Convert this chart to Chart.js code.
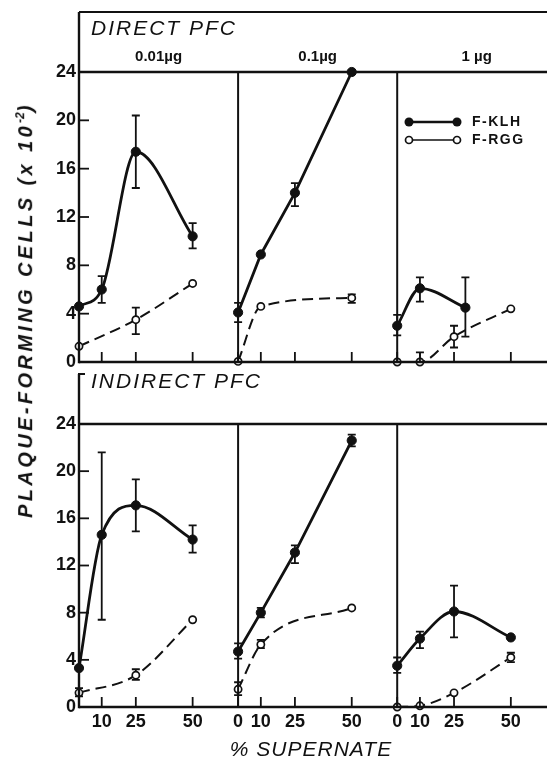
<!DOCTYPE html>
<html>
<head>
<meta charset="utf-8">
<script src="https://cdn.jsdelivr.net/npm/chart.js@4/dist/chart.umd.min.js"></script>
<style>
  html, body { margin: 0; padding: 0; background: #fff; width: 547px; height: 757px; overflow: hidden; }
  canvas { position: absolute; left: 0; }
  #direct { top: 0; }
  #indirect { top: 370px; }
  #ytitle {
    position: absolute; left: 25px; top: 310px;
    transform: translate(-50%, -50%) rotate(-90deg);
    white-space: nowrap; color: #111;
    font: italic bold 20px "Liberation Sans", Arial, sans-serif;
    letter-spacing: 3.4px;
  }
  #ytitle sup { font-size: 12px; letter-spacing: 0; }
</style>
</head>
<body>
<canvas id="direct" width="562" height="385"></canvas>
<canvas id="indirect" width="562" height="387"></canvas>
<div id="ytitle">PLAQUE-FORMING CELLS (x 10<sup>-2</sup>)</div>

<script>
const ink = '#111';
const panelSpan = 70;                 // x units given to each dose panel
const doses = ['0.01µg', '0.1µg', '1 µg'];
const xTickValues = [0, 10, 25, 50];  // % supernate
const yTicks = [0, 4, 8, 12, 16, 20, 24];

// direct PFC, one row per dose
const directKLHx  = [[0, 10, 25, 50], [0, 10, 25, 50], [0, 10, 30]];
const directKLH   = [[4.6, 6.0, 17.4, 10.4], [4.1, 8.9, 14.0, 24.0], [3.0, 6.1, 4.5]];
const directKLHLo = [[null, 4.9, 14.4, 9.4], [3.3, null, 12.9, null], [2.2, 5.0, 2.1]];
const directKLHHi = [[null, 7.1, 20.4, 11.5], [4.9, null, 14.8, null], [3.9, 7.0, 7.0]];
const directRGGx  = [[0, 25, 50], [0, 10, 50], [0, 10, 25, 50]];
const directRGG   = [[1.3, 3.5, 6.5], [0.05, 4.6, 5.3], [0, 0, 2.1, 4.4]];
const directRGGLo = [[null, 2.3, null], [null, null, 4.9], [null, 0, 1.2, null]];
const directRGGHi = [[null, 4.5, null], [null, null, 5.6], [null, 0.8, 3.0, null]];

// indirect PFC
const indirectKLHx  = [[0, 10, 25, 50], [0, 10, 25, 50], [0, 10, 25, 50]];
const indirectKLH   = [[3.3, 14.6, 17.1, 14.2], [4.7, 8.0, 13.1, 22.6], [3.5, 5.8, 8.1, 5.9]];
const indirectKLHLo = [[null, 7.4, 14.9, 13.1], [4.1, 7.6, 12.2, 22.1], [2.9, 5.0, 5.9, null]];
const indirectKLHHi = [[null, 21.6, 19.3, 15.4], [5.4, 8.4, 13.7, 23.1], [4.2, 6.4, 10.3, null]];
const indirectRGGx  = [[0, 25, 50], [0, 10, 50], [0, 10, 25, 50]];
const indirectRGG   = [[1.2, 2.7, 7.4], [1.5, 5.3, 8.4], [0, 0.1, 1.2, 4.2]];
const indirectRGGLo = [[0.9, 2.3, null], [1.0, 5.0, null], [null, null, null, 3.8]];
const indirectRGGHi = [[1.6, 3.2, null], [2.1, 5.7, null], [null, null, null, 4.6]];

const tickFont = { family: '"Liberation Sans", Arial, sans-serif', size: 18, weight: 'bold' };
const straightKLH = [false, true, false]; // the 0.1µg curves are drawn as straight segments

function series(xs, ys, lo, hi, p, open) {
  return {
    data: xs.map((v, i) => ({ x: p * panelSpan + v, y: ys[i] })),
    lo, hi,
    borderColor: ink,
    borderWidth: open ? 2 : 2.8,
    borderDash: open ? [11, 6] : [],
    pointRadius: open ? 3.6 : 4.6,
    pointBackgroundColor: open ? '#fff' : ink,
    pointBorderColor: ink,
    pointBorderWidth: open ? 1.7 : 1,
    cubicInterpolationMode: (!open && straightKLH[p]) ? 'default' : 'monotone',
    tension: 0,
    clip: false
  };
}

function buildSets(kx, k, klo, khi, rx, r, rlo, rhi) {
  const sets = [];
  doses.forEach((d, p) => {
    sets.push(series(rx[p], r[p], rlo[p], rhi[p], p, true));
    sets.push(series(kx[p], k[p], klo[p], khi[p], p, false));
  });
  return sets;
}

// vertical error bars with caps, drawn under the markers
const errorBars = {
  id: 'errorBars',
  beforeDatasetsDraw(chart) {
    const { ctx, scales: { x, y } } = chart;
    ctx.save();
    ctx.strokeStyle = ink;
    ctx.lineWidth = 1.8;
    chart.data.datasets.forEach(ds => {
      ds.data.forEach((pt, i) => {
        if (ds.lo[i] == null) return;
        const px = x.getPixelForValue(pt.x);
        const y1 = y.getPixelForValue(ds.lo[i]);
        const y2 = y.getPixelForValue(ds.hi[i]);
        ctx.beginPath();
        ctx.moveTo(px, y1); ctx.lineTo(px, y2);
        ctx.moveTo(px - 4, y1); ctx.lineTo(px + 4, y1);
        ctx.moveTo(px - 4, y2); ctx.lineTo(px + 4, y2);
        ctx.stroke();
      });
    });
    ctx.restore();
  }
};

// axes box, panel dividers, inward ticks, headings and key
const frame = {
  id: 'frame',
  afterDraw(chart, args, opts) {
    const { ctx, chartArea: a, scales: { x, y } } = chart;
    const w = chart.width;
    const line = (x1, y1, x2, y2, lw) => {
      ctx.lineWidth = lw;
      ctx.beginPath(); ctx.moveTo(x1, y1); ctx.lineTo(x2, y2); ctx.stroke();
    };
    ctx.save();
    ctx.strokeStyle = ink;
    ctx.fillStyle = ink;
    const headTop = a.top - opts.head;
    line(a.left, headTop, a.left, a.bottom + 1.2, 2.4);
    if (opts.closed) line(a.left, headTop, w, headTop, 2.2);
    else line(a.left - 1, headTop, a.left + 6, headTop, 2);
    line(a.left, a.top, w, a.top, 2.6);
    line(a.left, a.bottom, w, a.bottom, 2.4);
    for (let p = 1; p < doses.length; p++) {
      const px = x.getPixelForValue(p * panelSpan);
      line(px, a.top, px, a.bottom, 2);
    }
    y.ticks.forEach((t, i) => {
      const py = y.getPixelForTick(i);
      line(a.left, py, a.left + 10, py, 1.8);
    });
    x.ticks.forEach((t, i) => {
      const px = x.getPixelForTick(i);
      line(px, a.bottom, px, a.bottom - 10, 1.8);
    });

    ctx.textBaseline = 'middle';
    ctx.textAlign = 'left';
    ctx.font = 'italic 21px "Liberation Sans", Arial, sans-serif';
    ctx.letterSpacing = '2px';
    ctx.fillText(opts.title, a.left + 12, a.top - opts.titleGap);
    ctx.letterSpacing = '0px';

    if (opts.xTitle) {
      ctx.font = 'italic 21px "Liberation Sans", Arial, sans-serif';
      ctx.textAlign = 'center';
      ctx.letterSpacing = '1px';
      ctx.fillText(opts.xTitle, 311, a.bottom + 43);
      ctx.letterSpacing = '0px';
    }

    if (opts.doses) {
      ctx.font = 'bold 15px "Liberation Sans", Arial, sans-serif';
      ctx.textAlign = 'center';
      doses.forEach((d, p) => {
        ctx.fillText(d, x.getPixelForValue(p * panelSpan + panelSpan / 2), a.top - 15);
      });
    }

    if (opts.legend) {
      const lx = a.left + 330, ly = a.top + 50;
      line(lx, ly, lx + 48, ly, 2.6);
      line(lx, ly + 18, lx + 48, ly + 18, 1.5);
      [lx, lx + 48].forEach(cx => {
        ctx.beginPath(); ctx.arc(cx, ly, 4.5, 0, Math.PI * 2); ctx.fill();
        ctx.beginPath(); ctx.arc(cx, ly + 18, 3.5, 0, Math.PI * 2);
        ctx.fillStyle = '#fff'; ctx.fill(); ctx.fillStyle = ink;
        ctx.lineWidth = 1.7; ctx.stroke();
      });
      ctx.font = 'bold 14px "Liberation Sans", Arial, sans-serif';
      ctx.textAlign = 'left';
      ctx.letterSpacing = '1.5px';
      ctx.fillText('F-KLH', lx + 63, ly);
      ctx.fillText('F-RGG', lx + 63, ly + 18);
      ctx.letterSpacing = '0px';
    }
    ctx.restore();
  }
};

function makeScales(showLabels, xHeight) {
  return {
    x: {
      type: 'linear', min: 0, max: panelSpan * doses.length,
      grid: { display: false, drawTicks: false }, border: { display: false },
      afterBuildTicks: s => {
        const ticks = [];
        doses.forEach((d, p) => xTickValues.forEach(v => {
          if (p > 0 || v > 0) ticks.push({ value: p * panelSpan + v });
        }));
        s.ticks = ticks;
      },
      afterFit: s => { s.height = xHeight; },
      ticks: {
        display: showLabels, autoSkip: false, maxRotation: 0, minRotation: 0,
        padding: 4, color: ink, font: tickFont,
        callback: v => v % panelSpan
      }
    },
    y: {
      min: 0, max: 24,
      grid: { display: false, drawTicks: false }, border: { display: false },
      afterBuildTicks: s => { s.ticks = yTicks.map(v => ({ value: v })); },
      afterFit: s => { s.width = 79; },
      ticks: { padding: 3, color: ink, font: tickFont }
    }
  };
}

function makeChart(id, sets, padTop, xHeight, showLabels, frameOpts) {
  return new Chart(document.getElementById(id), {
    type: 'line',
    data: { datasets: sets },
    options: {
      responsive: false, animation: false, devicePixelRatio: 1,
      layout: { padding: { top: padTop, right: 3, left: 0, bottom: 0 } },
      scales: makeScales(showLabels, xHeight),
      plugins: { legend: { display: false }, tooltip: { enabled: false }, frame: frameOpts },
      events: []
    },
    plugins: [errorBars, frame]
  });
}

makeChart('direct',
  buildSets(directKLHx, directKLH, directKLHLo, directKLHHi, directRGGx, directRGG, directRGGLo, directRGGHi),
  72, 23, false,
  { title: 'DIRECT PFC', head: 60, titleGap: 43, closed: true, doses: true, legend: true });

makeChart('indirect',
  buildSets(indirectKLHx, indirectKLH, indirectKLHLo, indirectKLHHi, indirectRGGx, indirectRGG, indirectRGGLo, indirectRGGHi),
  54, 50, true,
  { title: 'INDIRECT PFC', head: 50, titleGap: 42, closed: false, doses: false, legend: false,
    xTitle: '% SUPERNATE' });
</script>
</body>
</html>
